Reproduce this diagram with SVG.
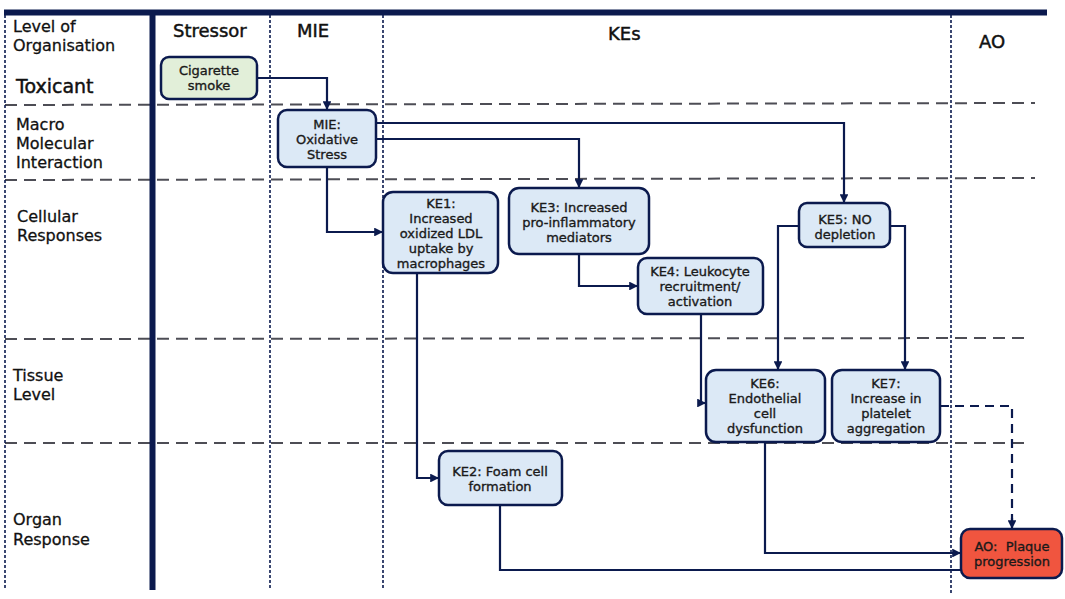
<svg xmlns="http://www.w3.org/2000/svg" width="1065" height="599" viewBox="0 0 1065 599">
<defs>
<marker id="arr" viewBox="0 0 10 10" refX="10" refY="5" markerWidth="4" markerHeight="4" orient="auto" markerUnits="strokeWidth">
<path d="M0,0 L10,5 L0,10 z" fill="#0b1a4e"/>
</marker>
</defs>
<style>
text{font-family:"DejaVu Sans","Liberation Sans",sans-serif;fill:#111;stroke:#111;stroke-width:0.3}
.hdr{font-size:18px;stroke-width:0.45}
.lvl{font-size:16px}
.nt{font-size:13px;text-anchor:middle;fill:#1a1a1a;stroke:#1a1a1a;stroke-width:0.35}
.box{stroke:#0b1a4e;stroke-width:2.5}
.blue{fill:#dce9f6}
.green{fill:#e2efd9}
.red{fill:#f0553f}
.vdot{stroke:#0b1a4e;stroke-width:1.6;stroke-dasharray:3 2;fill:none}
.hdash{stroke:#4d4d55;stroke-width:2;stroke-dasharray:12 7;fill:none}
.con{stroke:#0b1a4e;stroke-width:2.2;fill:none}
.condash{stroke:#0b1a4e;stroke-width:2.2;fill:none;stroke-dasharray:9 6}
</style>
<rect width="1065" height="599" fill="#fff"/>
<g id="grid">
<line class="hdash" x1="5" y1="105" x2="1035" y2="103"/>
<line class="hdash" x1="5" y1="180" x2="1035" y2="178"/>
<line class="hdash" x1="5" y1="339" x2="1030" y2="338"/>
<line class="hdash" x1="5" y1="443" x2="1030" y2="443"/>
<line class="vdot" x1="5" y1="15" x2="5" y2="590"/>
<line class="vdot" x1="270" y1="15" x2="270" y2="590"/>
<line class="vdot" x1="383" y1="15" x2="383" y2="590"/>
<line class="vdot" x1="951" y1="15" x2="951" y2="594"/>
<line x1="4" y1="12.5" x2="1047" y2="12.5" stroke="#0b1a4e" stroke-width="6"/>
<line x1="152.5" y1="12" x2="152.5" y2="590" stroke="#0b1a4e" stroke-width="6"/>
</g>
<g id="headers">
<text class="lvl" x="13" y="32">Level of</text>
<text class="lvl" x="13" y="51">Organisation</text>
<text class="hdr" x="173" y="37">Stressor</text>
<text class="hdr" x="297" y="37">MIE</text>
<text class="hdr" x="608" y="40">KEs</text>
<text class="hdr" x="979" y="48">AO</text>
</g>
<g id="levels">
<text x="16" y="93" style="font-size:19px;stroke-width:0.45">Toxicant</text>
<text class="lvl" x="16" y="130">Macro</text>
<text class="lvl" x="16" y="149">Molecular</text>
<text class="lvl" x="16" y="168">Interaction</text>
<text class="lvl" x="17" y="222">Cellular</text>
<text class="lvl" x="17" y="241">Responses</text>
<text class="lvl" x="13" y="381">Tissue</text>
<text class="lvl" x="13" y="400">Level</text>
<text class="lvl" x="13" y="525">Organ</text>
<text class="lvl" x="13" y="545">Response</text>
</g>
<g id="connectors">
<polyline class="con" points="257,78 327,78 327,110" marker-end="url(#arr)"/>
<polyline class="con" points="376,123 844,123 844,203" marker-end="url(#arr)"/>
<polyline class="con" points="376,139 579,139 579,188" marker-end="url(#arr)"/>
<polyline class="con" points="327,167 327,232 383,232" marker-end="url(#arr)"/>
<polyline class="con" points="417,273 417,478 439,478" marker-end="url(#arr)"/>
<polyline class="con" points="579,254 579,286 638,286" marker-end="url(#arr)"/>
<polyline class="con" points="701,314 701,403 706,403" marker-end="url(#arr)"/>
<polyline class="con" points="799,226 778,226 778,370" marker-end="url(#arr)"/>
<polyline class="con" points="890,226 905,226 905,370" marker-end="url(#arr)"/>
<polyline class="condash" points="940,406 1012,406 1012,522"/>
<polyline class="con" points="1012,518 1012,529" marker-end="url(#arr)"/>
<polyline class="con" points="765,442 765,553 961,553" marker-end="url(#arr)"/>
<polyline class="con" points="500,505 500,570 961,570"/>
</g>
<g id="n-smoke">
<rect class="box green" x="161" y="57" width="96" height="42" rx="8"/>
<text class="nt" x="209" y="75">Cigarette</text>
<text class="nt" x="209" y="90">smoke</text>
</g>
<g id="n-mie">
<rect class="box blue" x="278" y="110" width="98" height="57" rx="9"/>
<text class="nt" x="327" y="129">MIE:</text>
<text class="nt" x="327" y="144">Oxidative</text>
<text class="nt" x="327" y="159">Stress</text>
</g>
<g id="n-ke1">
<rect class="box blue" x="383" y="192" width="115" height="81" rx="10"/>
<text class="nt" x="441" y="208">KE1:</text>
<text class="nt" x="441" y="223">Increased</text>
<text class="nt" x="441" y="238">oxidized LDL</text>
<text class="nt" x="441" y="253">uptake by</text>
<text class="nt" x="441" y="268">macrophages</text>
</g>
<g id="n-ke3">
<rect class="box blue" x="509" y="188" width="140" height="66" rx="10"/>
<text class="nt" x="579" y="212">KE3: Increased</text>
<text class="nt" x="579" y="227">pro-inflammatory</text>
<text class="nt" x="579" y="242">mediators</text>
</g>
<g id="n-ke4">
<rect class="box blue" x="638" y="258" width="125" height="56" rx="9"/>
<text class="nt" x="700" y="276">KE4: Leukocyte</text>
<text class="nt" x="700" y="291">recruitment/</text>
<text class="nt" x="700" y="306">activation</text>
</g>
<g id="n-ke5">
<rect class="box blue" x="799" y="203" width="91" height="44" rx="8"/>
<text class="nt" x="845" y="224">KE5: NO</text>
<text class="nt" x="845" y="239">depletion</text>
</g>
<g id="n-ke6">
<rect class="box blue" x="706" y="370" width="119" height="72" rx="10"/>
<text class="nt" x="765" y="388">KE6:</text>
<text class="nt" x="765" y="403">Endothelial</text>
<text class="nt" x="765" y="418">cell</text>
<text class="nt" x="765" y="433">dysfunction</text>
</g>
<g id="n-ke7">
<rect class="box blue" x="832" y="370" width="108" height="72" rx="10"/>
<text class="nt" x="886" y="388">KE7:</text>
<text class="nt" x="886" y="403">Increase in</text>
<text class="nt" x="886" y="418">platelet</text>
<text class="nt" x="886" y="433">aggregation</text>
</g>
<g id="n-ke2">
<rect class="box blue" x="439" y="451" width="123" height="54" rx="9"/>
<text class="nt" x="500" y="476">KE2: Foam cell</text>
<text class="nt" x="500" y="491">formation</text>
</g>
<g id="n-ao">
<rect class="box red" x="961" y="529" width="101" height="49" rx="9"/>
<text class="nt" x="1012" y="551" style="white-space:pre">AO:  Plaque</text>
<text class="nt" x="1012" y="566">progression</text>
</g>
</svg>
